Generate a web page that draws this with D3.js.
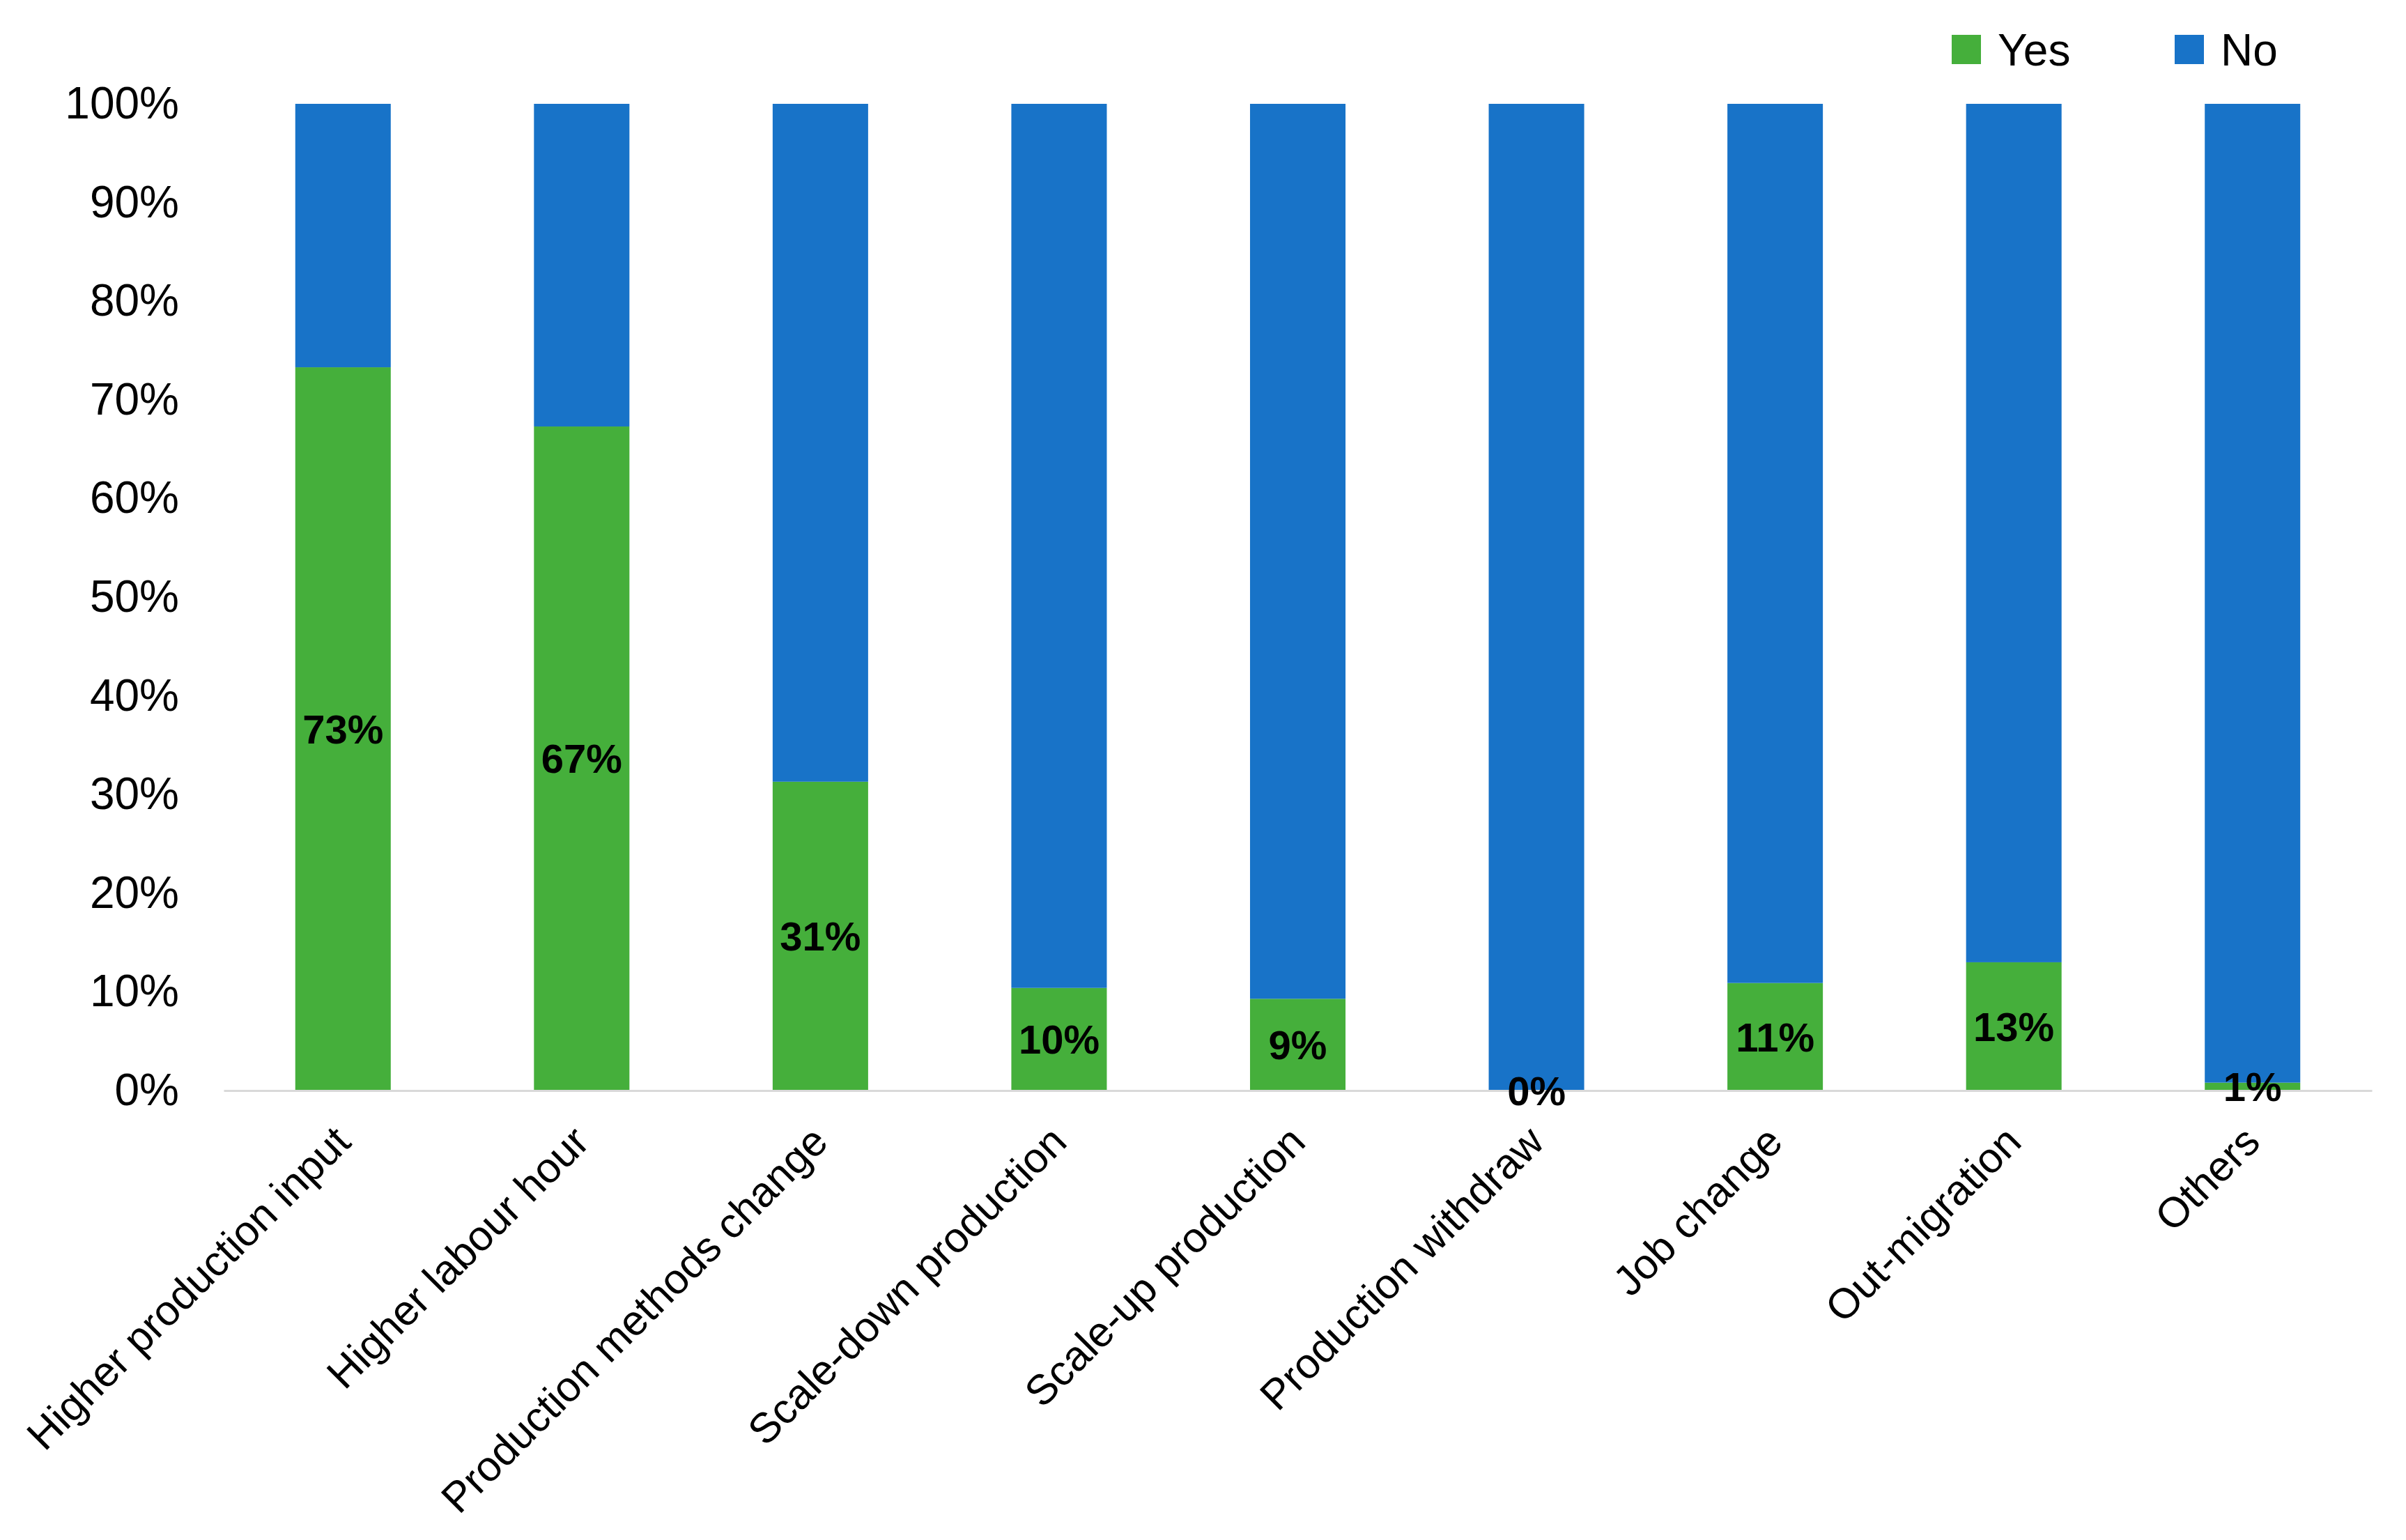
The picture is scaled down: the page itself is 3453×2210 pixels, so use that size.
<!DOCTYPE html>
<html>
<head>
<meta charset="utf-8">
<script src="https://cdn.jsdelivr.net/npm/d3@7"></script>
<style>
  body { margin: 0; background: #fff; }
  text { font-family: "Liberation Sans", Arial, sans-serif; }
</style>
</head>
<body>
<svg id="chart"></svg>
<script>
const WIDTH = 3453;
const HEIGHT = 2210;

// data
const categories = ["Higher production input", "Higher labour hour", "Production methods change",
  "Scale-down production", "Scale-up production", "Production withdraw", "Job change",
  "Out-migration", "Others"];
const yesValues = [73.3, 67.3, 31.3, 10.4, 9.3, 0, 10.9, 13.0, 0.8];
const noValues = [26.7, 32.7, 68.7, 89.6, 90.7, 100, 89.1, 87.0, 99.2];
const seriesNames = ["Yes", "No"];
const colors = ["#45af3b", "#1873c8"];
const yTicks = [0, 0.1, 0.2, 0.3, 0.4, 0.5, 0.6, 0.7, 0.8, 0.9, 1];

const rows = categories.map((c, i) => ({ cat: c, Yes: yesValues[i] / 100, No: noValues[i] / 100 }));

const svg = d3.select("#chart")
    .attr("width", WIDTH)
    .attr("height", HEIGHT);

const x = d3.scaleBand()
    .domain(categories)
    .range([321, 3404])
    .paddingInner(0.6)
    .paddingOuter(0.3);

const y = d3.scaleLinear()
    .domain([0, 1])
    .range([1565, 149]);

const color = d3.scaleOrdinal().domain(seriesNames).range(colors);

const stack = d3.stack().keys(seriesNames);
const layers = stack(rows);

// bars
svg.append("g")
  .selectAll("g")
  .data(layers)
  .join("g")
    .attr("fill", d => color(d.key))
  .selectAll("rect")
  .data(d => d)
  .join("rect")
    .attr("x", d => x(d.data.cat))
    .attr("width", x.bandwidth())
    .attr("y", d => y(d[1]))
    .attr("height", d => y(d[0]) - y(d[1]));

// y axis, labels only
const yAxis = svg.append("g")
    .attr("transform", "translate(321,0)")
    .call(d3.axisLeft(y).tickValues(yTicks).tickFormat(d3.format(".0%")).tickSize(0).tickPadding(64));
yAxis.select(".domain").remove();
yAxis.selectAll("text")
    .style("font-size", "64px")
    .style("font-family", "'Liberation Sans', Arial, sans-serif")
    .attr("fill", "#000");

// x axis
const xAxis = svg.append("g")
    .attr("transform", `translate(0,${y(0)})`)
    .call(d3.axisBottom(x).tickSize(0).tickSizeOuter(0));
xAxis.select(".domain")
    .attr("stroke", "#d9d9d9")
    .attr("stroke-width", 3);
xAxis.selectAll("text")
    .style("font-size", "60.5px")
    .style("font-family", "'Liberation Sans', Arial, sans-serif")
    .attr("fill", "#000")
    .attr("text-anchor", "end")
    .attr("x", 14)
    .attr("y", 77)
    .attr("dy", 0)
    .attr("transform", "rotate(-45 14 77)");

// data labels on the Yes segments
const fmt = d3.format(".0%");
svg.append("g")
  .selectAll("text")
  .data(layers[0])
  .join("text")
    .attr("x", d => x(d.data.cat) + x.bandwidth() / 2)
    .attr("y", d => (y(d[0]) + y(d[1])) / 2)
    .attr("dy", "0.36em")
    .attr("text-anchor", "middle")
    .style("font-size", "58px")
    .style("font-weight", "bold")
    .attr("fill", "#000")
    .text(d => fmt(d[1] - d[0]));

// legend
const legendX = [2801, 3121];
const legend = svg.append("g")
  .selectAll("g")
  .data(seriesNames)
  .join("g")
    .attr("transform", (d, i) => `translate(${legendX[i]},50)`);
legend.append("rect")
    .attr("width", 42)
    .attr("height", 42)
    .attr("fill", d => color(d));
legend.append("text")
    .attr("x", 66)
    .attr("y", 21)
    .attr("dy", "0.36em")
    .style("font-size", "64px")
    .attr("fill", "#000")
    .text(d => d);
</script>
</body>
</html>
